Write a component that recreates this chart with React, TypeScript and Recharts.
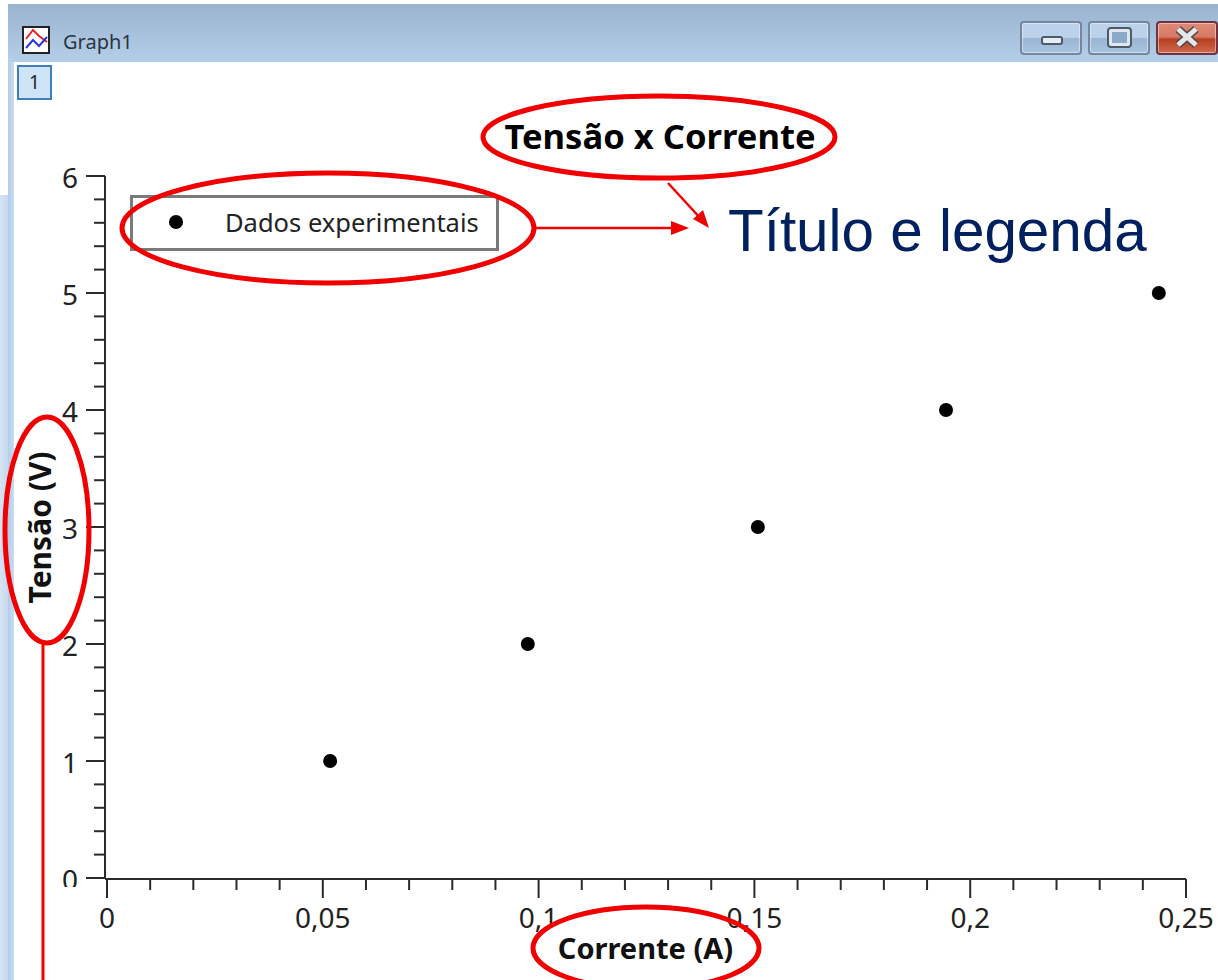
import { ScatterChart, Scatter, XAxis, YAxis, Legend } from 'recharts'

const corrente = [0.0517, 0.0975, 0.1508, 0.1944, 0.2437]
const tensao = [1, 2, 3, 4, 5]
const data = corrente.map((x, i) => ({ x, y: tensao[i] }))

const xMajor = [0, 0.05, 0.1, 0.15, 0.2, 0.25]
const xTicks = [0, 0.01, 0.02, 0.03, 0.04, 0.05, 0.06, 0.07, 0.08, 0.09, 0.1, 0.11, 0.12, 0.13, 0.14, 0.15, 0.16, 0.17, 0.18, 0.19, 0.2, 0.21, 0.22, 0.23, 0.24, 0.25]
const yMajor = [0, 1, 2, 3, 4, 5, 6]
const yTicks = [0, 0.2, 0.4, 0.6, 0.8, 1, 1.2, 1.4, 1.6, 1.8, 2, 2.2, 2.4, 2.6, 2.8, 3, 3.2, 3.4, 3.6, 3.8, 4, 4.2, 4.4, 4.6, 4.8, 5, 5.2, 5.4, 5.6, 5.8, 6]

const FONT = '"Noto Sans", sans-serif'
const AXIS = '#2b2b2b'
const RED = '#f00000'

const comma = (v: number) => String(v).replace('.', ',')

function XTick({ x, y, payload }: any) {
  const major = xMajor.includes(payload.value)
  return (
    <g>
      <line x1={x} x2={x} y1={y} y2={y + (major ? 19 : 11)} stroke={AXIS} strokeWidth={2} />
      {major && (
        <text x={x} y={y + 49} textAnchor="middle" fontSize={28} fontFamily={FONT} fill="#222">
          {comma(payload.value)}
        </text>
      )}
    </g>
  )
}

function YTick({ x, y, payload }: any) {
  const major = yMajor.includes(payload.value)
  return (
    <g>
      <line x1={x - (major ? 19 : 11)} x2={x} y1={y} y2={y} stroke={AXIS} strokeWidth={2} />
      {major && (
        <text
          x={x - 27}
          y={y + 12}
          textAnchor="end"
          fontSize={28}
          fontFamily={FONT}
          fill="#222"
          clipPath={payload.value === 0 ? 'url(#zero-clip)' : undefined}
        >
          {payload.value}
        </text>
      )}
    </g>
  )
}

function LegendBox() {
  return (
    <div style={{ width: 369, height: 56, boxSizing: 'border-box', border: '3px solid #7a7a7a', background: '#fff', position: 'relative' }}>
      <svg width={40} height={40} style={{ position: 'absolute', left: 23, top: 4 }}>
        <circle cx={20} cy={20} r={7} fill="#000" />
      </svg>
      <span style={{ position: 'absolute', left: 92, top: 7, fontFamily: FONT, fontSize: 25.5, color: '#222', whiteSpace: 'nowrap' }}>
        Dados experimentais
      </span>
    </div>
  )
}

function WindowChrome() {
  const btn = (left: number, bg: string, border: string) => ({
    position: 'absolute' as const, left, top: 21, width: 62, height: 34, boxSizing: 'border-box' as const,
    borderRadius: 4, border: `2px solid ${border}`, background: bg,
    boxShadow: 'inset 0 0 0 1px rgba(255,255,255,0.45)',
  })
  const blue = 'linear-gradient(#bcd2ea 0%, #bcd2ea 48%, #9ab6d4 52%, #a9c4e0 100%)'
  return (
    <>
      <div style={{ position: 'absolute', left: 0, top: 195, width: 8, height: 785, background: 'linear-gradient(90deg,#d6e4f4,#c4d8ee)' }} />
      <div style={{ position: 'absolute', left: 8, top: 62, width: 6, height: 918, background: 'linear-gradient(90deg,#b3cde8,#c9dcf1)' }} />
      <div style={{ position: 'absolute', left: 8, top: 4, width: 1210, height: 58, background: 'linear-gradient(#99b3d0,#b5cfe9)' }} />
      <svg width={28} height={28} style={{ position: 'absolute', left: 22, top: 26 }}>
        <rect x={1} y={1} width={26} height={26} fill="#fff" stroke="#222" strokeWidth={2} />
        <polyline points="4,13 11,4 17,10 25,16" fill="none" stroke="#e8222a" strokeWidth={2} />
        <polyline points="4,22 11,14 17,20 25,11" fill="none" stroke="#2a35e0" strokeWidth={2} />
      </svg>
      <span style={{ position: 'absolute', left: 63, top: 28, fontFamily: FONT, fontSize: 20, color: '#2a3440' }}>Graph1</span>
      <div style={{ position: 'absolute', left: 17, top: 65, width: 35, height: 35, boxSizing: 'border-box', border: '2px solid #3f7fb5', background: '#cfe4f7', textAlign: 'center', fontFamily: FONT, fontSize: 19, lineHeight: '31px', color: '#222' }}>1</div>
      <div style={btn(1020, blue, '#74879e')}>
        <div style={{ position: 'absolute', left: 19, top: 13, width: 22, height: 9, boxSizing: 'border-box', background: '#e8edf3', border: '2px solid #4d5a68', borderRadius: 3 }} />
      </div>
      <div style={btn(1088, blue, '#74879e')}>
        <div style={{ position: 'absolute', left: 18, top: 5, width: 23, height: 19, boxSizing: 'border-box', background: '#8ba9c8', border: '4px solid #dfe6ee', outline: '2px solid #4d5a68', outlineOffset: -1, borderRadius: 3 }} />
      </div>
      <div style={btn(1156, 'linear-gradient(#de8a78 0%, #d77a66 45%, #b83f20 55%, #cf6a50 100%)', '#6e3342')}>
        <svg width={58} height={30} style={{ position: 'absolute', left: 0, top: 0 }}>
          <path d="M20 6 L38 22 M38 6 L20 22" stroke="#4d4d4d" strokeWidth={8} />
          <path d="M20 6 L38 22 M38 6 L20 22" stroke="#e6e6e6" strokeWidth={5} />
        </svg>
      </div>
    </>
  )
}

function Annotations() {
  return (
    <svg width={1218} height={980} style={{ position: 'absolute', left: 0, top: 0, pointerEvents: 'none' }}>
      <text x={660} y={149} textAnchor="middle" fontSize={34.6} fontWeight={700} fontFamily={FONT} fill="#000">Tensão x Corrente</text>
      <text x={728} y={251} fontSize={58.4} fontFamily='"Liberation Sans", sans-serif' fill="#002060">Título e legenda</text>
      <g fill="none" stroke={RED} strokeWidth={5}>
        <ellipse cx={659} cy={137} rx={176} ry={41} />
        <ellipse cx={328} cy={228} rx={206} ry={55} />
        <ellipse cx={47} cy={530} rx={42} ry={113} />
        <ellipse cx={646} cy={948} rx={113} ry={41} />
      </g>
      <g stroke={RED} strokeWidth={2.5} fill={RED}>
        <line x1={668} y1={183} x2={702} y2={220} />
        <polygon points="709,228 693,219 703,210" stroke="none" />
        <line x1={535} y1={228} x2={675} y2={228} />
        <polygon points="689,228 671,221 671,235" stroke="none" />
        <line x1={43} y1={645} x2={43} y2={980} strokeWidth={3} />
      </g>
    </svg>
  )
}

export default function App() {
  return (
    <div style={{ position: 'fixed', left: 0, top: 0, width: 1218, height: 980, background: '#fff', overflow: 'hidden' }}>
      <WindowChrome />
      <div style={{ position: 'absolute', left: 0, top: 0 }}>
        <ScatterChart width={1218} height={980} margin={{ top: 176, right: 32, bottom: 41, left: 45 }}>
          <defs>
            <clipPath id="zero-clip">
              <rect x={40} y={860} width={50} height={27} />
            </clipPath>
          </defs>
          <XAxis
            type="number"
            dataKey="x"
            domain={[0, 0.25]}
            ticks={xTicks}
            interval={0}
            height={60}
            padding={{ left: 2 }}
            tick={<XTick />}
            tickLine={false}
            tickSize={0}
            tickMargin={0}
            axisLine={{ stroke: AXIS, strokeWidth: 2 }}
            label={{
              value: 'Corrente (A)',
              position: 'bottom',
              offset: -1,
              style: { fontFamily: FONT, fontSize: 29, fontWeight: 700, fill: '#111', textAnchor: 'middle' },
            }}
          />
          <YAxis
            type="number"
            dataKey="y"
            domain={[0, 6]}
            ticks={yTicks}
            interval={0}
            width={60}
            padding={{ bottom: 1 }}
            tick={<YTick />}
            tickLine={false}
            tickSize={0}
            tickMargin={0}
            axisLine={{ stroke: AXIS, strokeWidth: 2 }}
            label={{
              value: 'Tensão (V)',
              position: 'left',
              offset: 5,
              angle: -90,
              style: { fontFamily: FONT, fontSize: 30, fontWeight: 700, fill: '#111', textAnchor: 'middle' },
            }}
          />
          <Legend
            layout="horizontal"
            verticalAlign="middle"
            align="center"
            content={<LegendBox />}
            wrapperStyle={{ position: 'absolute', left: 130, top: 195, width: 369, height: 56 }}
          />
          <Scatter
            name="Dados experimentais"
            data={data}
            fill="#000"
            isAnimationActive={false}
            shape={(p: any) => <circle cx={p.cx} cy={p.cy} r={7} fill="#000" />}
          />
        </ScatterChart>
      </div>
      <Annotations />
    </div>
  )
}
